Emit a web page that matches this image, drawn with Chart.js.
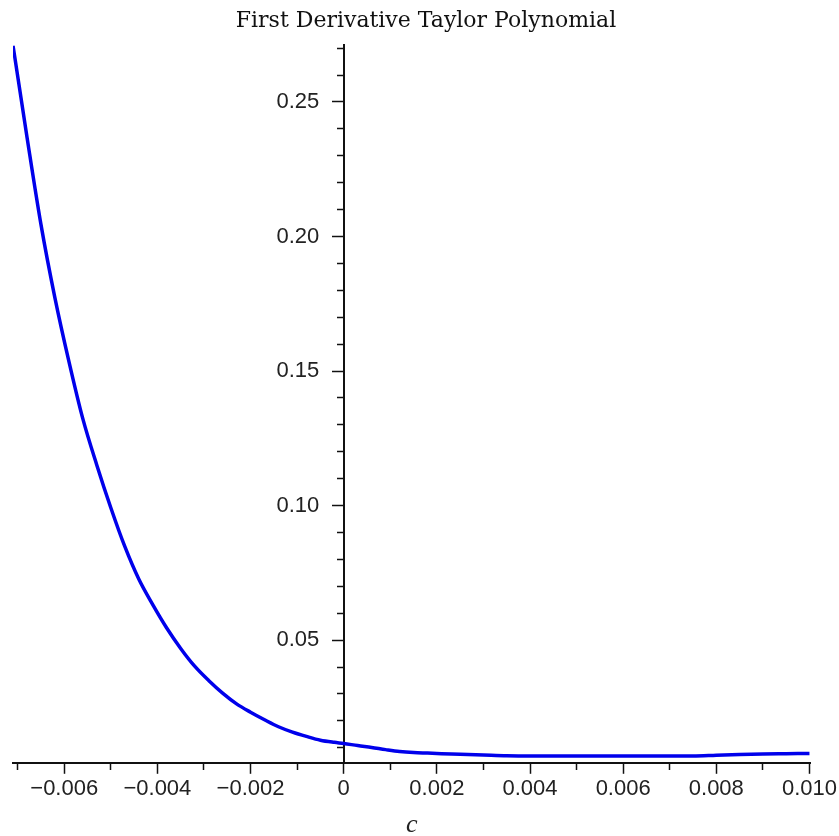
<!DOCTYPE html>
<html>
<head>
<meta charset="utf-8">
<script src="https://cdn.jsdelivr.net/npm/chart.js@4.4.1/dist/chart.umd.min.js"></script>
<style>
    html, body { margin: 0; padding: 0; background: #fff; }
    #wrap { width: 839px; height: 836px; }
</style>
</head>
<body>
<div id="wrap"><canvas id="taylorChart"></canvas></div>
<script>
// c values and first derivative taylor polynomial error
const cValues = [
    -0.0071, -0.0068, -0.0065, -0.0062, -0.0059, -0.0056, -0.0053, -0.0050,
    -0.0047, -0.0044, -0.0041, -0.0038, -0.0035, -0.0032, -0.0029, -0.0026,
    -0.0023, -0.0020, -0.0017, -0.0014, -0.0011, -0.0008, -0.0005, -0.0002,
    0.0000, 0.0003, 0.0006, 0.0009, 0.0012, 0.0015, 0.0018, 0.0021,
    0.0025, 0.0030, 0.0035, 0.0040, 0.0045, 0.0050, 0.0055, 0.0060,
    0.0065, 0.0070, 0.0075, 0.0080, 0.0085, 0.0090, 0.0095, 0.0100
]
const errValues = [
    0.2710, 0.2370, 0.2045, 0.1772, 0.1536, 0.1322, 0.1150, 0.0992,
    0.0848, 0.0727, 0.0632, 0.0545, 0.0469, 0.0403, 0.0350, 0.0303,
    0.0263, 0.0232, 0.0204, 0.0178, 0.0158, 0.0142, 0.0128, 0.0120,
    0.0116, 0.0108, 0.0101, 0.0093, 0.0086, 0.0082, 0.0080, 0.0078,
    0.0076, 0.0073, 0.0070, 0.0069, 0.0069, 0.0069, 0.0069, 0.0069,
    0.0069, 0.0069, 0.0069, 0.0072, 0.0075, 0.0077, 0.0078, 0.0079
]

// tick labels
const xTickLabels = ["−0.006", "−0.004", "−0.002", "0", "0.002", "0.004", "0.006", "0.008", "0.010"]
const yTickLabels = ["0.05", "0.10", "0.15", "0.20", "0.25"]

const points = cValues.map((c, i) => ({ x: c, y: errValues[i] }))

function xLabel(v) {
    const s = v === 0 ? "0" : (v < 0 ? "−" : "") + Math.abs(v).toFixed(3)
    return xTickLabels.includes(s) ? s : ""
}
function yLabel(v) {
    const s = v.toFixed(2)
    return yTickLabels.includes(s) ? s : ""
}

const tickFont = { family: "Liberation Sans", size: 22 }

const config = {
    type: "line",
    data: {
        datasets: [{
            data: points,
            borderColor: "rgb(0, 0, 235)",
            borderWidth: 3.5,
            pointRadius: 0,
            cubicInterpolationMode: "monotone",
            fill: false
        }]
    },
    options: {
        responsive: true,
        maintainAspectRatio: false,
        animation: false,
        layout: {
            padding: { left: 13, right: 0, top: 0, bottom: 0 }
        },
        scales: {
            x: {
                type: "linear",
                position: "bottom",
                min: -0.0071,
                max: 0.01002,
                grid: {
                    drawOnChartArea: false,
                    drawTicks: true,
                    tickLength: 11,
                    tickColor: "#111",
                    tickWidth: 1.5,
                    tickBorderDash: (ctx) => xLabel(ctx.tick.value) ? [] : [6, 40]
                },
                border: { color: "#111", width: 2 },
                ticks: {
                    stepSize: 0.001,
                    includeBounds: false,
                    autoSkip: false,
                    maxRotation: 0,
                    minRotation: 0,
                    padding: 2,
                    color: "#222",
                    font: tickFont,
                    callback: (v) => xLabel(v)
                },
                title: {
                    display: true,
                    text: "c",
                    color: "#222",
                    font: { family: "Liberation Serif", size: 26, style: "italic", lineHeight: 0.8 },
                    padding: { top: 11, bottom: 0 }
                }
            },
            y: {
                type: "linear",
                position: { x: 0 },
                min: 0.0044,
                max: 0.271,
                grid: {
                    drawOnChartArea: false,
                    drawTicks: true,
                    tickLength: 11,
                    tickColor: "#111",
                    tickWidth: 1.5,
                    tickBorderDash: (ctx) => yLabel(ctx.tick.value) ? [] : [6, 40]
                },
                border: { color: "#111", width: 2 },
                ticks: {
                    stepSize: 0.01,
                    includeBounds: false,
                    autoSkip: false,
                    color: "#222",
                    font: tickFont,
                    // labels sit on the axis line when it is placed at x = 0, pad them off it
                    callback: (v) => yLabel(v) ? yLabel(v) + "    " : ""
                }
            }
        },
        plugins: {
            legend: { display: false },
            tooltip: { enabled: false },
            title: {
                display: true,
                text: "First Derivative Taylor Polynomial",
                color: "#111",
                font: { family: "DejaVu Serif", size: 22, weight: "normal" },
                padding: { top: 8.5, bottom: 10.5 }
            }
        }
    }
}

const taylorChart = new Chart(
    document.getElementById("taylorChart"), config
)
</script>
</body>
</html>
